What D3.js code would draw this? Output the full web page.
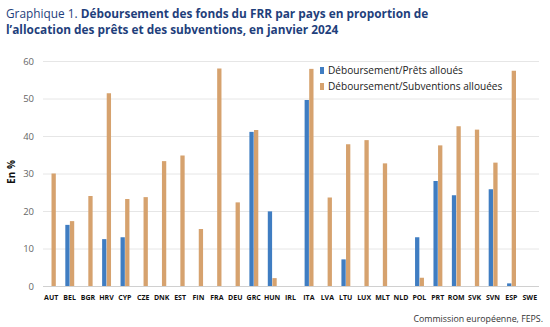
<!DOCTYPE html>
<html><head><meta charset="utf-8">
<script src="https://cdn.jsdelivr.net/npm/d3@7"></script>
<style>body{margin:0;background:#fff}svg{font-family:"Open Sans",sans-serif}</style>
</head><body><svg id="c" width="550" height="327"></svg>
<script>
const categories = ["AUT","BEL","BGR","HRV","CYP","CZE","DNK","EST","FIN","FRA","DEU","GRC","HUN","IRL","ITA","LVA","LTU","LUX","MLT","NLD","POL","PRT","ROM","SVK","SVN","ESP","SWE"];
const pretsValues = [0,16.3,0,12.5,13,0,0,0,0,0,0,41.1,19.9,0,49.6,0,7.1,0,0,0,13,28,24.2,0,25.8,0.7,0];
const subvValues = [30,17.3,24,51.4,23.2,23.7,33.3,34.8,15.2,58,22.3,41.6,2.1,0,57.9,23.6,37.8,38.9,32.7,0,2.2,37.5,42.6,41.7,32.9,57.4,0];
const seriesNames = ["Déboursement/Prêts alloués","Déboursement/Subventions allouées"];
const yTicks = [0,10,20,30,40,50,60];
const colors = ["#3f7dc2","#d6a26e"];

const svg = d3.select("#c");
const x = d3.scaleBand().domain(categories).range([42,539]);
const y = d3.scaleLinear().domain([0,60]).range([286,61]);
const bw = 4.3;

// title
const t = svg.append("text").attr("x",6).attr("y",18).attr("fill","#1f3f7c").style("font-size","11.85px");
t.append("tspan").text("Graphique 1. ");
t.append("tspan").attr("font-weight","bold").text("Déboursement des fonds du FRR par pays en proportion de");
svg.append("text").attr("x",6).attr("y",34).attr("fill","#1f3f7c").attr("font-weight","bold").style("font-size","11.85px")
  .text("l’allocation des prêts et des subventions, en janvier 2024");

// grid
svg.append("g").selectAll("line").data(yTicks).join("line")
  .attr("x1",43).attr("x2",539).attr("y1",d=>y(d)+0.5).attr("y2",d=>y(d)+0.5)
  .attr("stroke",d=>d===0?"#d0d0d0":"#e6e6e6").attr("stroke-width",1);
svg.append("g").selectAll("text").data(yTicks).join("text")
  .attr("x",34).attr("y",d=>y(d)+3.5).attr("text-anchor","end").attr("fill","#666").style("font-size","9.5px").text(d=>d);

svg.append("text").attr("transform","translate(15,172) rotate(-90)").attr("text-anchor","middle")
  .attr("font-weight","bold").style("font-size","10px").attr("fill","#111").text("En %");

// bars
const g = svg.append("g");
g.selectAll("rect.p").data(categories).join("rect").attr("class","p")
  .attr("x",(d)=>x(d)+x.bandwidth()/2-bw).attr("width",bw)
  .attr("y",(d,i)=>y(pretsValues[i])).attr("height",(d,i)=>y(0)-y(pretsValues[i]))
  .attr("fill",colors[0]);
g.selectAll("rect.s").data(categories).join("rect").attr("class","s")
  .attr("x",(d)=>x(d)+x.bandwidth()/2+0.3).attr("width",bw)
  .attr("y",(d,i)=>y(subvValues[i])).attr("height",(d,i)=>y(0)-y(subvValues[i]))
  .attr("fill",colors[1]);

// x labels
svg.append("g").selectAll("text").data(categories).join("text")
  .attr("x",d=>x(d)+x.bandwidth()/2).attr("y",300).attr("text-anchor","middle")
  .attr("font-weight","bold").style("font-size","7px").attr("fill","#111").text(d=>d);

// legend
const lg = svg.append("g");
seriesNames.forEach((n,i)=>{
  lg.append("rect").attr("x",320).attr("y",67+i*16).attr("width",4).attr("height",7).attr("fill",colors[i]);
  lg.append("text").attr("x",328).attr("y",74+i*16).style("font-size","10.1px").attr("fill","#222").text(n);
});

svg.append("text").attr("x",543).attr("y",322).attr("text-anchor","end").style("font-size","8.8px").attr("fill","#333")
  .text("Commission européenne, FEPS.");
</script></body></html>
